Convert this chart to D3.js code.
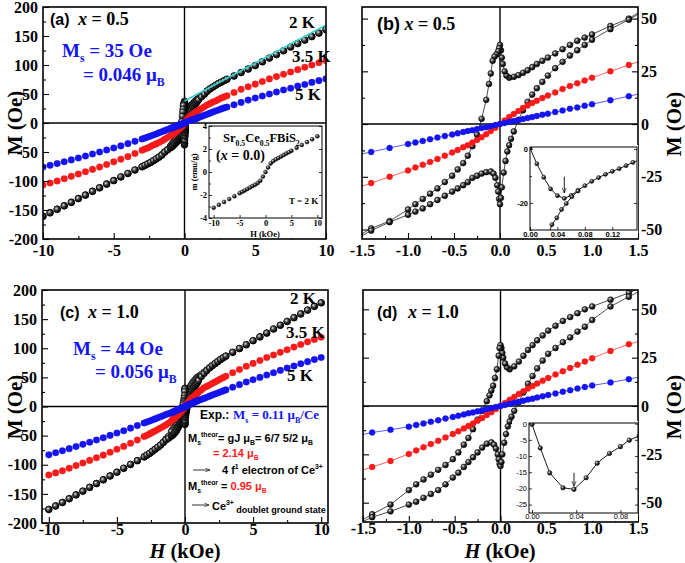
<!DOCTYPE html>
<html><head><meta charset="utf-8">
<script src="https://cdn.jsdelivr.net/npm/d3@7"></script>
<style>body{margin:0;background:#fff}</style>
</head><body>
<script>
// ---------------- DATA ----------------
// field grid (kOe) for the 3.5 K and 5 K sweeps
const fieldGrid = [10,9.5,9,8.5,8,7.5,7,6.5,6,5.5,5,4.5,4,3.5,3,
 2.8,2.6,2.4,2.2,2,1.8,1.6,1.4,1.2,1,
 0.92,0.84,0.76,0.68,0.6,0.52,
 0.46,0.4,0.35,0.3,0.25,0.2,0.15,0.1,0.05,0,
 -0.05,-0.1,-0.15,-0.2,-0.25,-0.3,-0.35,-0.4,-0.46,
 -0.52,-0.6,-0.68,-0.76,-0.84,-0.92,
 -1,-1.2,-1.4,-1.6,-1.8,-2,-2.2,-2.4,-2.6,-2.8,
 -3,-3.5,-4,-4.5,-5,-5.5,-6,-6.5,-7,-7.5,-8,-8.5,-9,-9.5,-10];

// x = 0.5
const m05_35K = [107.5,104,100,96,92,88,84,80,76,71.5,67,62.5,58,52.5,47,
 45,43,40.5,38,36,33.5,31,28,25,22,
 20.6,19.3,18,16.6,15,13.5,
 12.3,11,10,8.8,7.6,6.2,4.8,3.3,1.7,0,
 -1.7,-3.3,-4.8,-6.2,-7.6,-8.8,-10,-11,-12.3,
 -13.5,-15,-16.6,-18,-19.3,-20.6,
 -22,-25,-28,-31,-33.5,-36,-38,-40.5,-43,-45,
 -47,-52.5,-58,-62.5,-67,-71.5,-76,-80,-84,-88,-92,-96,-100,-103.5,-107];
const m05_5K = [76,73,70,66.5,63.5,60,57,53.5,50,46.5,43,39.5,35.5,31.5,27.5,
 26,24.3,22.5,20.8,19,17,15.2,13.2,11.3,9.4,
 8.7,7.9,7.2,6.4,5.7,4.9,
 4.4,3.8,3.3,2.9,2.4,1.9,1.4,1,0.5,0,
 -0.5,-1,-1.5,-1.9,-2.4,-2.9,-3.3,-3.8,-4.4,
 -5,-5.7,-6.4,-7.2,-8,-8.7,
 -9.5,-11.3,-13.2,-15.2,-17,-19,-20.8,-22.6,-24.3,-26,
 -27.6,-31.6,-35.6,-39.5,-43,-46.6,-50,-53.5,-57,-60.3,-63.6,-66.8,-70,-73,-76];
// x = 1.0
const m10_35K = [119,115,111,106.5,102,97.5,93,88.5,84,79,74,69,63.5,58,52,
 49.5,47,44.5,42,39.5,37,34.5,32,28.5,24.7,
 23,21.3,19.7,18,16.3,14.5,
 13.1,11.6,10.3,9,7.6,6.2,4.7,3.2,1.6,0,
 -1.6,-3.2,-4.7,-6.2,-7.6,-9,-10.3,-11.6,-13.1,
 -14.5,-16.3,-18,-19.7,-21.3,-23,
 -24.8,-28.4,-31.6,-34.5,-37,-39.5,-42,-44.5,-47,-49.5,
 -51.5,-57.5,-63,-68.5,-73.5,-78.5,-83.5,-88,-92.5,-97,-101.5,-106,-110.5,-114,-117.5];
const m10_5K = [84,80.5,77,73.5,69.5,66,62,58,54,50,46,42,37.5,33,28.5,
 26.8,25,23.2,21.4,19.6,17.8,15.9,13.9,12.2,10.6,
 9.8,9,8.2,7.4,6.5,5.7,
 5,4.4,3.8,3.3,2.75,2.2,1.65,1.1,0.55,0,
 -0.55,-1.1,-1.65,-2.2,-2.75,-3.3,-3.8,-4.4,-5,
 -5.7,-6.5,-7.4,-8.2,-9,-9.8,
 -10.7,-12.3,-13.7,-15.8,-17.7,-19.5,-21.3,-23.1,-25,-26.7,
 -28.3,-32.8,-37.2,-41.6,-45.6,-49.6,-53.6,-57.5,-61.3,-65,-68.8,-72.4,-76,-79.5,-83];

// 2 K loops: field-decreasing branch and field-increasing branch
const fieldDown2K = [10,9.5,9,8.5,8,7.5,7,6.5,6,5.5,5,4.5,4,3.5,3,
 2.8,2.6,2.4,2.2,2,1.8,1.6,1.4,1.2,1,
 0.92,0.84,0.76,0.68,0.6,0.52,
 0.46,0.4,0.35,0.3,0.25,0.2,0.15,0.1,0.07,0.05,0.03,0.02,0.01,0,
 -0.01,-0.02,-0.04,-0.06,-0.08,-0.1,-0.12,-0.15,-0.2,-0.25,-0.3,-0.35,-0.4,-0.46,
 -0.52,-0.6,-0.68,-0.76,-0.84,-0.92,
 -1,-1.2,-1.4,-1.6,-1.8,-2,-2.2,-2.4,-2.6,-2.8,
 -3,-3.5,-4,-4.5,-5,-5.5,-6,-6.5,-7,-7.5,-8,-8.5,-9,-9.5,-10];
const fieldUp2K = [-10,-9.5,-9,-8.5,-8,-7.5,-7,-6.5,-6,-5.5,-5,-4.5,-4,-3.5,-3,
 -2.8,-2.6,-2.4,-2.2,-2,-1.8,-1.6,-1.4,-1.2,-1,
 -0.92,-0.84,-0.76,-0.68,-0.6,-0.52,
 -0.46,-0.4,-0.35,-0.3,-0.25,-0.2,-0.15,-0.1,-0.07,-0.05,-0.03,-0.02,-0.01,0,
 0.01,0.02,0.04,0.06,0.08,0.1,0.12,0.15,0.2,0.25,0.3,0.35,0.4,0.46,
 0.52,0.6,0.68,0.76,0.84,0.92,
 1,1.2,1.4,1.6,1.8,2,2.2,2.4,2.6,2.8,
 3,3.5,4,4.5,5,5.5,6,6.5,7,7.5,8,8.5,9,9.5,10];

const m05_2K_down = [161,155,149,143,137,131,124.5,118,112,105.5,99,93,87,81,75.5,
 73,70.5,68,65,62,59,55.5,50,46.5,42.5,
 41,39.5,37.5,35.5,33.5,31.5,
 30,28.5,27,25.5,24.3,23.2,22.4,22,23,25,28.5,31.5,35,37.5,
 36,34.5,33,32,30,24,19,11.5,2.5,-5,-10.5,-15,-18.5,-21.5,
 -24.5,-27.5,-30.5,-33,-35.5,-38,
 -40.5,-46,-49.5,-54.5,-58.5,-62,-65,-68,-70.5,-73,
 -75.5,-81,-87,-93,-99,-105,-111.5,-117.5,-124,-130,-136.5,-142.5,-148.5,-154.5,-160.5];
const m05_2K_up = [-161,-155,-149,-143,-137,-130.5,-124.5,-118,-112,-105.5,-99.5,-93,-87,-81,-75.5,
 -73,-70.5,-68,-65,-62,-59,-55.5,-50.5,-46.5,-43,
 -41.5,-40,-38,-36,-34,-32,
 -30.5,-29,-27.5,-25.5,-24.5,-23.5,-22.8,-22.5,-23.5,-25.5,-29,-32,-35.5,-38,
 -35,-30,-23,-17.5,-13,-10,-7,-3.5,2,6.5,10.5,14,17,20,
 23,26.5,29.5,32.5,35,37.5,
 40,45,49.5,54.5,58.5,62,65,68,70.5,73,
 75.5,81,87,93,99,105.5,112,118,124.5,131,137,143,149,155,161];
const m10_2K_down = [178,172,165.5,159,152.5,146,139.5,133,126,119.5,113,106,99.5,93,86.5,
 83.5,80.5,77,73.5,70,66.5,62.5,58.5,55,51.5,
 50,48,46,44,41.5,39,
 36.5,34,31.5,29,26,23,20.5,19,20,22,25,27.5,30,31.5,
 30,26,19,14.5,10.5,8,5.5,2.5,-2.5,-7,-12,-16.5,-20,-24,
 -27.5,-30.5,-33,-35.5,-38,-40.5,
 -43.5,-51,-56,-61.5,-66,-70,-73.5,-77,-80.5,-83.5,
 -86.5,-93,-99.5,-106,-112.5,-119,-125.5,-132,-138.5,-145,-151.5,-158,-164.5,-170.5,-176.5];
const m10_2K_up = [-177,-171,-165,-158.5,-152,-145.5,-139,-132.5,-126,-119.5,-113,-106,-99.5,-93,-86.5,
 -83.5,-80.5,-77,-73.5,-70,-66.5,-62,-57.5,-54.5,-51,
 -49.5,-47.5,-45.5,-43.5,-40.5,-37,
 -34.5,-31.5,-29,-26.5,-24,-21.5,-19.5,-18.8,-20,-22,-25,-27.5,-30,-31,
 -29,-25,-19,-14.5,-10.5,-8,-5.5,-2.5,2,7,11.5,15.5,19.5,23.5,
 27,30,33,35.5,38.5,41,
 44.5,51.5,56.5,61.5,66,70,73.5,77,80.5,83.5,
 86.5,93,99.5,106,113,119.5,126,133,139.5,146,152.5,159,165.5,172,178];

// linear fit drawn in (a)
const fitH = [0, 10];
const fitM = [38, 169];

// inset (a): Sr0.5Ce0.5FBiS2, T = 2 K
const insetA_H = [-10,-9,-8,-7,-6,-5,-4.5,-4,-3.5,-3,-2.5,-2,-1.5,-1,-0.5,0,0.5,1,1.5,2,2.5,3,3.5,4,4.5,5,6,7,8,9,10];
const insetA_m = [-3.1,-2.85,-2.6,-2.35,-2.1,-1.85,-1.72,-1.6,-1.47,-1.35,-1.22,-1.1,-0.95,-0.75,-0.4,0,0.4,0.75,0.95,1.1,1.22,1.35,1.47,1.6,1.72,1.85,2.1,2.35,2.6,2.85,3.1];
// inset (b)
const insetB1_H = [0,0.01,0.02,0.03,0.04,0.05,0.06,0.07,0.08,0.09,0.1,0.11,0.12,0.13,0.14,0.15,0.16];
const insetB1_M = [0.3,-5.5,-10.5,-14.8,-17.3,-18.3,-17.2,-15.3,-13.6,-12,-10.6,-9.4,-8.3,-7.3,-6.2,-5,-4];
const insetB2_H = [0.028,0.032,0.039,0.046,0.053,0.061,0.07];
const insetB2_M = [-31,-28,-25.5,-22.4,-20.2,-17.7,-15.6];
const arrowB = [[0.05,-10.3],[0.05,-16.3]];
// inset (d)
const insetD_H = [0,0.0075,0.016,0.028,0.038,0.049,0.059,0.07,0.08,0.088,0.097];
const insetD_M = [-0.2,-7.5,-15.2,-19.8,-20.3,-16.7,-12.2,-9.2,-7.1,-5.1,-3.8];
const arrowD = [[0.038,-15.2],[0.038,-19.4]];

// tick labels
const yTicksBig = [-200,-150,-100,-50,0,50,100,150,200];
const xTicksBig = [-10,-5,0,5,10];
const yTicksZoom = [-50,-25,0,25,50];
const xTicksZoom = [-1.5,-1,-0.5,0,0.5,1,1.5];

// sanity
[[fieldGrid,m05_35K],[fieldGrid,m05_5K],[fieldGrid,m10_35K],[fieldGrid,m10_5K],
 [fieldDown2K,m05_2K_down],[fieldUp2K,m05_2K_up],[fieldDown2K,m10_2K_down],[fieldUp2K,m10_2K_up],
 [insetA_H,insetA_m],[insetB1_H,insetB1_M],[insetB2_H,insetB2_M],[insetD_H,insetD_M]].forEach((p,i)=>{
  if(p[0].length!==p[1].length) throw new Error('length mismatch '+i+': '+p[0].length+' vs '+p[1].length);
});

// ---------------- DRAW ----------------
const SERIF = "'Liberation Serif','Times New Roman',serif";
const SANS = "'Liberation Sans',Arial,sans-serif";
const BLUE = '#1414f5', RED = '#ff1a1a';
const svg = d3.select('body').append('svg').attr('width',685).attr('height',563);
const defs = svg.append('defs');
const grad = defs.append('radialGradient').attr('id','ball').attr('cx','36%').attr('cy','34%').attr('r','70%');
grad.append('stop').attr('offset','0%').attr('stop-color','#f0f0f0');
grad.append('stop').attr('offset','22%').attr('stop-color','#8a8a8a');
grad.append('stop').attr('offset','55%').attr('stop-color','#2a2a2a');
grad.append('stop').attr('offset','100%').attr('stop-color','#000');
const mk = defs.append('marker').attr('id','arr').attr('viewBox','0 0 10 10').attr('refX',10).attr('refY',5)
  .attr('markerWidth',6).attr('markerHeight',6).attr('orient','auto-start-reverse');
mk.append('path').attr('d','M0,1 L10,5 L0,9').attr('fill','none').attr('stroke','#000').attr('stroke-width',1.2);

const panels = {
  a:{l:43,r:326,t:7,b:239,xd:[-10,10],yd:[-200,200]},
  b:{l:362,r:638,t:7,b:239,xd:[-1.5,1.5],yd:[-54.5,55.5]},
  c:{l:42,r:328,t:290,b:523,xd:[-10.5,10.5],yd:[-200,200]},
  d:{l:363,r:638,t:290,b:522,xd:[-1.5,1.5],yd:[-60,60]}
};

function setup(name){
  const p = panels[name];
  p.x = d3.scaleLinear().domain(p.xd).range([p.l,p.r]);
  p.y = d3.scaleLinear().domain(p.yd).range([p.b,p.t]);
  defs.append('clipPath').attr('id','cl'+name).append('rect')
    .attr('x',p.l).attr('y',p.t).attr('width',p.r-p.l).attr('height',p.b-p.t);
  p.g = svg.append('g');
  p.g.append('line').attr('x1',p.x(0)).attr('x2',p.x(0)).attr('y1',p.t).attr('y2',p.b).attr('stroke','#000').attr('stroke-width',1.4);
  p.g.append('line').attr('x1',p.l).attr('x2',p.r).attr('y1',p.y(0)).attr('y2',p.y(0)).attr('stroke','#000').attr('stroke-width',1.4);
  p.data = p.g.append('g').attr('clip-path',`url(#cl${name})`);
  return p;
}

function series(p, hs, ms, kind, r, line){
  const pts = d3.zip(hs, ms);
  const col = kind==='ball' ? '#000' : kind;
  if(line){
    p.data.append('path').datum(pts)
      .attr('d', d3.line().x(d=>p.x(d[0])).y(d=>p.y(d[1])))
      .attr('fill','none').attr('stroke',col).attr('stroke-width',0.7);
  }
  p.data.append('g').selectAll('circle').data(pts).enter().append('circle')
    .attr('cx',d=>p.x(d[0])).attr('cy',d=>p.y(d[1])).attr('r',r)
    .attr('fill', kind==='ball' ? 'url(#ball)' : kind)
    .attr('stroke', kind==='ball' ? '#000' : d3.color(kind).darker(0.6))
    .attr('stroke-width', kind==='ball' ? 0.6 : 0.3);
}

function styleAxis(g, fs, ff, weight){
  g.select('.domain').remove();
  g.selectAll('line').attr('stroke','#000').attr('stroke-width',1.1);
  g.selectAll('text').attr('font-family',ff).attr('font-size',fs).attr('font-weight',weight||'bold').attr('fill','#000');
}
const fmtInt = t => String(t);
const fmt1 = t => t.toFixed(1);

function frameAxes(p, o){
  const gx = p.g.append('g').attr('transform',`translate(0,${p.b})`)
    .call(d3.axisBottom(p.x).tickValues(o.xt).tickFormat(o.xf).tickSize(-6).tickPadding(o.xpad));
  styleAxis(gx, 16, SERIF);
  const gxm = p.g.append('g').attr('transform',`translate(0,${p.b})`)
    .call(d3.axisBottom(p.x).tickValues(o.xm).tickFormat('').tickSize(-3));
  styleAxis(gxm, 16, SERIF);
  const gl = p.g.append('g').attr('transform',`translate(${p.l},0)`)
    .call(d3.axisLeft(p.y).tickValues(o.yt).tickFormat(o.leftLabels ? fmtInt : '').tickSize(-6).tickPadding(5));
  styleAxis(gl, 16, SERIF);
  const glm = p.g.append('g').attr('transform',`translate(${p.l},0)`)
    .call(d3.axisLeft(p.y).tickValues(o.ym).tickFormat('').tickSize(-3));
  styleAxis(glm, 16, SERIF);
  if(o.rightLabels){
    const gr = p.g.append('g').attr('transform',`translate(${p.r},0)`)
      .call(d3.axisRight(p.y).tickValues(o.yt).tickFormat(fmtInt).tickSize(-6).tickPadding(3));
    styleAxis(gr, 16, SERIF);
    const grm = p.g.append('g').attr('transform',`translate(${p.r},0)`)
      .call(d3.axisRight(p.y).tickValues(o.ym).tickFormat('').tickSize(-3));
    styleAxis(grm, 16, SERIF);
  }
  p.g.append('rect').attr('x',p.l).attr('y',p.t).attr('width',p.r-p.l).attr('height',p.b-p.t)
    .attr('fill','none').attr('stroke','#000').attr('stroke-width',1.6);
}

function rich(x, y, parts, o){
  const t = svg.append('text').attr('x',x).attr('y',y)
    .attr('font-family',o.ff||SERIF).attr('font-weight',o.fw||'bold').attr('font-size',o.fs).attr('fill',o.c||'#000');
  if(o.anchor) t.attr('text-anchor',o.anchor);
  if(o.rot) t.attr('transform',`rotate(${o.rot},${x},${y})`);
  let shift = 0;
  parts.forEach(pt=>{
    const s = t.append('tspan').text(pt.t);
    const target = pt.f==='sub' ? o.fs*0.28 : pt.f==='sup' ? -o.fs*0.42 : 0;
    s.attr('dy', target-shift); shift = target;
    if(pt.f) s.attr('font-size', o.fs*0.62);
    if(pt.fs) s.attr('font-size', pt.fs);
    if(pt.c) s.attr('fill', pt.c);
    if(pt.i) s.attr('font-style','italic');
    if(pt.ff) s.attr('font-family', pt.ff);
  });
  return t;
}

function inset(o){
  svg.append('rect').attr('x',o.bg[0]).attr('y',o.bg[1]).attr('width',o.bg[2]).attr('height',o.bg[3]).attr('fill','#fff');
  const x = d3.scaleLinear().domain(o.xd).range([o.l,o.r]);
  const y = d3.scaleLinear().domain(o.yd).range([o.b,o.t]);
  const id = 'cl'+o.name;
  defs.append('clipPath').attr('id',id).append('rect').attr('x',o.l).attr('y',o.t).attr('width',o.r-o.l).attr('height',o.b-o.t);
  const g = svg.append('g');
  const gx = g.append('g').attr('transform',`translate(0,${o.b})`)
    .call(d3.axisBottom(x).tickValues(o.xt).tickFormat(o.xf).tickSize(-3).tickPadding(o.xpad||3));
  styleAxis(gx, o.fs, o.ff, o.fw);
  const gy = g.append('g').attr('transform',`translate(${o.l},0)`)
    .call(d3.axisLeft(y).tickValues(o.yt).tickFormat(o.yf).tickSize(-3).tickPadding(2));
  styleAxis(gy, o.fs, o.ff, o.fw);
  if(o.ym){
    const gym = g.append('g').attr('transform',`translate(${o.l},0)`)
      .call(d3.axisLeft(y).tickValues(o.ym).tickFormat('').tickSize(-2));
    styleAxis(gym, o.fs, o.ff, o.fw);
  }
  const gr = g.append('g').attr('transform',`translate(${o.r},0)`)
    .call(d3.axisRight(y).tickValues(o.yt).tickFormat('').tickSize(-3));
  styleAxis(gr, o.fs, o.ff, o.fw);
  g.selectAll('line').attr('stroke-width',0.8);
  const dg = g.append('g').attr('clip-path',`url(#${id})`);
  o.series.forEach(s=>{
    const pts = d3.zip(s.h, s.m);
    if(s.line) dg.append('path').datum(pts).attr('d', d3.line().x(d=>x(d[0])).y(d=>y(d[1])))
      .attr('fill','none').attr('stroke','#000').attr('stroke-width',0.9);
    dg.append('g').selectAll('circle').data(pts).enter().append('circle')
      .attr('cx',d=>x(d[0])).attr('cy',d=>y(d[1])).attr('r',s.r)
      .attr('fill','url(#ball)').attr('stroke','#000').attr('stroke-width',0.4);
  });
  if(o.arrow){
    g.append('line').attr('x1',x(o.arrow[0][0])).attr('y1',y(o.arrow[0][1]))
      .attr('x2',x(o.arrow[1][0])).attr('y2',y(o.arrow[1][1]))
      .attr('stroke','#000').attr('stroke-width',0.9).attr('marker-end','url(#arr)');
  }
  g.append('rect').attr('x',o.l).attr('y',o.t).attr('width',o.r-o.l).attr('height',o.b-o.t)
    .attr('fill','none').attr('stroke','#000').attr('stroke-width',1);
  return {x,y,g};
}

// ---- panel (a)
const A = setup('a');
series(A, fieldDown2K, m05_2K_down, 'ball', 3.3, false);
series(A, fieldUp2K, m05_2K_up, 'ball', 3.3, false);
series(A, fieldGrid, m05_35K, RED, 3.3, false);
series(A, fieldGrid, m05_5K, BLUE, 3.3, false);
A.data.append('path').datum(d3.zip(fitH, fitM)).attr('d', d3.line().x(d=>A.x(d[0])).y(d=>A.y(d[1])))
  .attr('stroke','#35d0d0').attr('stroke-width',1.6).attr('fill','none');
frameAxes(A, {xt:xTicksBig, xm:[-7.5,-2.5,2.5,7.5], xf:fmtInt, xpad:6, yt:yTicksBig, ym:[-175,-125,-75,-25,25,75,125,175], leftLabels:true});

// ---- panel (b)
const B = setup('b');
series(B, fieldDown2K, m05_2K_down, 'ball', 2.9, true);
series(B, fieldUp2K, m05_2K_up, 'ball', 2.9, true);
series(B, fieldGrid, m05_35K, RED, 3, true);
series(B, fieldGrid, m05_5K, BLUE, 3, true);
frameAxes(B, {xt:xTicksZoom, xm:[-1.25,-0.75,-0.25,0.25,0.75,1.25], xf:fmt1, xpad:6, yt:yTicksZoom, ym:[-37.5,-12.5,12.5,37.5], leftLabels:false, rightLabels:true});

// ---- panel (c)
const C = setup('c');
series(C, fieldDown2K, m10_2K_down, 'ball', 3.3, false);
series(C, fieldUp2K, m10_2K_up, 'ball', 3.3, false);
series(C, fieldGrid, m10_35K, RED, 3.3, false);
series(C, fieldGrid, m10_5K, BLUE, 3.3, false);
frameAxes(C, {xt:xTicksBig, xm:[-7.5,-2.5,2.5,7.5], xf:fmtInt, xpad:1, yt:yTicksBig, ym:[-175,-125,-75,-25,25,75,125,175], leftLabels:true});

// ---- panel (d)
const D = setup('d');
series(D, fieldDown2K, m10_2K_down, 'ball', 2.9, true);
series(D, fieldUp2K, m10_2K_up, 'ball', 2.9, true);
series(D, fieldGrid, m10_35K, RED, 3, true);
series(D, fieldGrid, m10_5K, BLUE, 3, true);
frameAxes(D, {xt:xTicksZoom, xm:[-1.25,-0.75,-0.25,0.25,0.75,1.25], xf:fmt1, xpad:1, yt:yTicksZoom, ym:[-37.5,-12.5,12.5,37.5], leftLabels:false, rightLabels:true});

// ---- insets
inset({name:'ia', bg:[189,124,136,114], l:209, r:322, t:126, b:218, xd:[-10.9,10.9], yd:[-4,4],
  xt:[-10,-5,0,5,10], xf:fmtInt, yt:[-4,-2,0,2,4], yf:fmtInt, ym:[-3,-1,1,3], fs:8.5, ff:SERIF, fw:'bold', xpad:2,
  series:[{h:insetA_H, m:insetA_m, r:2, line:false}]});
inset({name:'ib', bg:[512,145,126,93], l:530, r:637, t:147, b:230, xd:[0,0.156], yd:[-30,0.7],
  xt:[0,0.04,0.08,0.12], xf:d3.format('.2f'), yt:[0,-20], yf:fmtInt, ym:[-10,-30], fs:7.5, ff:SANS, fw:'bold', xpad:2,
  series:[{h:insetB1_H, m:insetB1_M, r:2.1, line:true},{h:insetB2_H, m:insetB2_M, r:2.1, line:true}], arrow:arrowB});
inset({name:'id', bg:[512,421,126,100], l:529, r:638, t:423, b:513, xd:[-0.0027,0.0959], yd:[-27.6,0.2],
  xt:[0,0.04,0.08], xf:d3.format('.2f'), yt:[0,-5,-10,-15,-20,-25], yf:fmtInt, fs:7.5, ff:SANS, fw:'normal', xpad:1,
  series:[{h:insetD_H, m:insetD_M, r:2.3, line:true}], arrow:arrowD});

// ---- axis titles
rich(22, 123, [{t:'M (Oe)'}], {fs:21, anchor:'middle', rot:-90});
rich(22, 407, [{t:'M (Oe)'}], {fs:21, anchor:'middle', rot:-90});
rich(681, 124, [{t:'M (Oe)'}], {fs:21, anchor:'middle', rot:-90});
rich(681, 407, [{t:'M (Oe)'}], {fs:21, anchor:'middle', rot:-90});
rich(185, 558, [{t:'H', i:true},{t:' (kOe)'}], {fs:20.5, anchor:'middle'});
rich(500, 558, [{t:'H', i:true},{t:' (kOe)'}], {fs:20.5, anchor:'middle'});

// ---- panel labels
rich(50, 25, [{t:'(a)'}], {fs:16, ff:SANS});
rich(78, 25, [{t:'x', i:true},{t:' = 0.5'}], {fs:18});
rich(377, 30, [{t:'(b)', ff:SANS},{t:' '},{t:'x', i:true},{t:' = 0.5'}], {fs:18});
rich(60, 318, [{t:'(c)'}], {fs:16, ff:SANS});
rich(88, 318, [{t:'x', i:true},{t:' = 1.0'}], {fs:18});
rich(377, 318, [{t:'(d)'}], {fs:16, ff:SANS});
rich(408, 318, [{t:'x', i:true},{t:' = 1.0'}], {fs:18});

// Ms annotations
rich(62, 57, [{t:'M'},{t:'s',f:'sub'},{t:' = 35 Oe'}], {fs:19, c:BLUE});
rich(83, 81, [{t:'= 0.046 μ'},{t:'B',f:'sub'}], {fs:19, c:BLUE});
rich(73, 355, [{t:'M'},{t:'s',f:'sub'},{t:' = 44 Oe'}], {fs:19, c:BLUE});
rich(95, 378, [{t:'= 0.056 μ'},{t:'B',f:'sub'}], {fs:19, c:BLUE});

// temperature labels
rich(289, 28, [{t:'2 K'}], {fs:17});
rich(292, 62, [{t:'3.5 K'}], {fs:17});
rich(295, 100, [{t:'5 K'}], {fs:17});
rich(290, 304, [{t:'2 K'}], {fs:17});
rich(286, 338, [{t:'3.5 K'}], {fs:17});
rich(287, 381, [{t:'5 K'}], {fs:17});

// inset (a) texts
rich(223, 142, [{t:'Sr'},{t:'0.5',f:'sub'},{t:'Ce'},{t:'0.5',f:'sub'},{t:'FBiS'},{t:'2',f:'sub'}], {fs:12.5});
rich(216, 160, [{t:'('},{t:'x',i:true},{t:' = 0.0)'}], {fs:14});
rich(289, 204, [{t:'T = 2 K'}], {fs:9});
rich(197, 172, [{t:'m (emu/g)'}], {fs:8.5, anchor:'middle', rot:-90});
rich(265, 237, [{t:'H (kOe)'}], {fs:8.5, anchor:'middle'});

// text block in (c)
rich(200, 419, [{t:'Exp.:'}], {fs:12, ff:SANS});
rich(233, 419, [{t:'M'},{t:'s',f:'sub'},{t:' = 0.11 μ'},{t:'B',f:'sub'},{t:'/Ce'}], {fs:13, c:BLUE});
rich(188, 442, [{t:'M'},{t:'s',f:'sub'},{t:'theor',f:'sup'},{t:'= gJ μ'},{t:'B',f:'sub'},{t:'= 6/7 5/2 μ'},{t:'B',f:'sub'}], {fs:11, ff:SANS});
rich(213, 457, [{t:'= 2.14 μ'},{t:'B',f:'sub'}], {fs:11, ff:SANS, c:RED});
rich(222, 474, [{t:'4 f'},{t:'1',f:'sup'},{t:' electron of Ce'},{t:'3+',f:'sup'}], {fs:11, ff:SANS});
rich(188, 490, [{t:'M'},{t:'s',f:'sub'},{t:'theor',f:'sup'},{t:' = '},{t:'0.95 μ',c:RED},{t:'B',f:'sub',c:RED}], {fs:11, ff:SANS});
rich(212, 510, [{t:'Ce'},{t:'3+',f:'sup'},{t:' doublet ground state', f:'sub', fs:9}], {fs:11, ff:SANS});
svg.append('line').attr('x1',193).attr('x2',210).attr('y1',470).attr('y2',470).attr('stroke','#000').attr('stroke-width',0.8).attr('marker-end','url(#arr)');
svg.append('line').attr('x1',192).attr('x2',209).attr('y1',505).attr('y2',505).attr('stroke','#000').attr('stroke-width',0.8).attr('marker-end','url(#arr)');
</script>
</body></html>
